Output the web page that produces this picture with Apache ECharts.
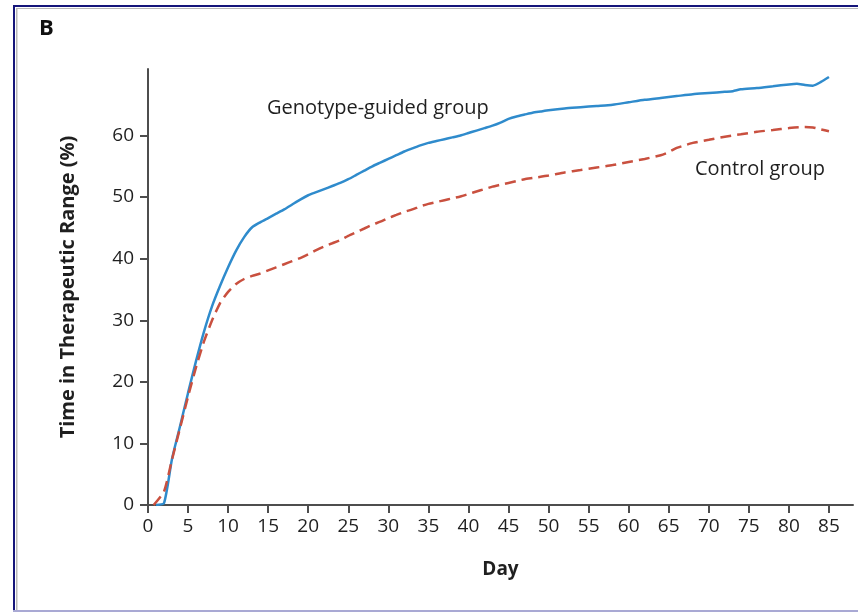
<!DOCTYPE html>
<html>
<head>
<meta charset="utf-8">
<script src="https://cdn.jsdelivr.net/npm/echarts@6/dist/echarts.min.js"></script>
<style>
    html, body { margin: 0; padding: 0; background: #fff; }
    #chart { width: 858px; height: 612px; }
</style>
</head>
<body>
<div id="chart"></div>
<script>
const chartDom = document.querySelector('#chart')

// Genotype-guided group (blue solid)
const genoDays = [1, 2, 3, 4, 5, 6, 7, 8, 9, 10, 11, 12, 13, 14, 15, 16, 17, 18, 19, 20,
    21, 22, 23, 24, 25, 26, 27, 28, 29, 30, 31, 32, 33, 34, 35, 36, 37, 38, 39, 40,
    41, 42, 43, 44, 45, 46, 47, 48, 49, 50, 52, 54, 56, 58, 60, 62, 64, 66, 68, 70,
    72, 73, 74, 76, 78, 80, 81, 82, 83, 84, 85]
const genoValues = [0, 0.3, 7.5, 12.8, 18.2, 23.4, 28.2, 32.3, 35.6, 38.6, 41.3, 43.5, 45.1, 45.9, 46.6, 47.3, 48, 48.8, 49.6, 50.3,
    50.8, 51.3, 51.8, 52.3, 52.9, 53.6, 54.3, 55, 55.6, 56.2, 56.8, 57.4, 57.9, 58.4, 58.8, 59.1, 59.4, 59.7, 60, 60.4,
    60.8, 61.2, 61.6, 62.1, 62.7, 63.1, 63.4, 63.7, 63.9, 64.1, 64.4, 64.6, 64.8, 65, 65.4, 65.8, 66.1, 66.4, 66.7, 66.9,
    67.1, 67.2, 67.5, 67.7, 68, 68.3, 68.4, 68.2, 68.1, 68.7, 69.5]

// Control group (red dashed)
const ctrlDays = [0.7, 2, 3, 4, 5, 6, 7, 8, 9, 10, 11, 12, 13, 14, 15, 16, 17, 18, 19, 20,
    21, 22, 23, 24, 25, 26, 27, 28, 29, 30, 31, 32, 33, 34, 35, 36, 37, 38, 39, 40,
    41, 42, 43, 44, 45, 46, 47, 48, 50, 52, 54, 56, 58, 60, 62, 64, 65, 66, 67, 68,
    70, 72, 74, 76, 78, 80, 82, 83, 84, 85]
const ctrlValues = [0, 2.2, 7.4, 12.5, 17.6, 22.4, 26.6, 30, 32.8, 34.6, 35.9, 36.7, 37.2, 37.6, 38.1, 38.6, 39.1, 39.6, 40.1, 40.7,
    41.4, 42, 42.5, 43, 43.7, 44.3, 44.9, 45.5, 46, 46.6, 47.1, 47.6, 48, 48.5, 48.9, 49.2, 49.5, 49.8, 50.1, 50.5,
    50.9, 51.3, 51.7, 52, 52.3, 52.6, 52.9, 53.1, 53.5, 54, 54.4, 54.8, 55.2, 55.7, 56.2, 56.8, 57.3, 58, 58.4, 58.8,
    59.3, 59.8, 60.2, 60.6, 60.9, 61.2, 61.4, 61.3, 61, 60.7]

const xTicks = [0, 5, 10, 15, 20, 25, 30, 35, 40, 45, 50, 55, 60, 65, 70, 75, 80, 85]
const yTicks = [0, 10, 20, 30, 40, 50, 60]

const FONT = '"Open Sans"'
const axisColor = '#4d4d4d'
const textColor = '#1f1f1f'

function paintTTRChart(dom) {
    let myChart = echarts.init(dom, null, { renderer: 'canvas' })
    let option
    option = {
        backgroundColor: '#fff',
        animation: false,
        textStyle: { fontFamily: FONT },
        grid: { left: 148, right: 5, top: 69, bottom: 107 },
        xAxis: {
            type: 'value',
            min: 0,
            max: 88,
            name: 'Day',
            nameLocation: 'middle',
            nameGap: 55,
            nameTextStyle: { fontFamily: FONT, fontSize: 19, fontWeight: 'bold', color: textColor },
            axisLine: { show: true, lineStyle: { color: axisColor, width: 2 } },
            axisTick: { show: true, length: 8, customValues: xTicks, lineStyle: { color: axisColor, width: 2 } },
            axisLabel: { customValues: xTicks, fontFamily: FONT, fontSize: 19, color: textColor, margin: 12 },
            splitLine: { show: false },
        },
        yAxis: {
            type: 'value',
            min: 0,
            max: 70.8,
            name: 'Time in Therapeutic Range (%)',
            nameLocation: 'middle',
            nameGap: 70,
            nameTextStyle: { fontFamily: FONT, fontSize: 20, fontWeight: 'bold', color: textColor },
            axisLine: { show: true, lineStyle: { color: axisColor, width: 2 } },
            axisTick: { show: true, length: 8, customValues: yTicks, lineStyle: { color: axisColor, width: 2 } },
            axisLabel: { customValues: yTicks, fontFamily: FONT, fontSize: 19, color: textColor, margin: 14 },
            splitLine: { show: false },
        },
        series: [
            {
                name: 'Genotype-guided group',
                type: 'line',
                showSymbol: false,
                smooth: 0.2,
                data: genoDays.map((d, i) => [d, genoValues[i]]),
                lineStyle: { color: '#2f8bcc', width: 2.5 },
                z: 2,
            },
            {
                name: 'Control group',
                type: 'line',
                showSymbol: false,
                smooth: 0.2,
                data: ctrlDays.map((d, i) => [d, ctrlValues[i]]),
                lineStyle: { color: '#c9503f', width: 2.5, type: [11, 6] },
                z: 3,
            },
        ],
        graphic: [
            // frame
            { type: 'rect', shape: { x: 13, y: 5, width: 845, height: 2 }, style: { fill: '#15157a' }, silent: true },
            { type: 'rect', shape: { x: 13, y: 5, width: 2, height: 607 }, style: { fill: '#15157a' }, silent: true },
            { type: 'rect', shape: { x: 16, y: 8, width: 842, height: 1 }, style: { fill: '#b8b8b8' }, silent: true },
            { type: 'rect', shape: { x: 16, y: 8, width: 1.5, height: 604 }, style: { fill: '#b8b8b8' }, silent: true },
            { type: 'rect', shape: { x: 13, y: 610, width: 845, height: 2 }, style: { fill: '#a9a9d4' }, silent: true },
            // panel letter
            { type: 'text', left: 39, top: 18, style: { text: 'B', font: 'bold 22px ' + FONT, fill: '#111' } },
            // series labels
            { type: 'text', left: 267, top: 98, style: { text: 'Genotype-guided group', font: '20px ' + FONT, fill: textColor } },
            { type: 'text', left: 695, top: 159, style: { text: 'Control group', font: '20px ' + FONT, fill: textColor } },
        ],
    }
    myChart.setOption(option)
}

paintTTRChart(chartDom)
</script>
</body>
</html>
